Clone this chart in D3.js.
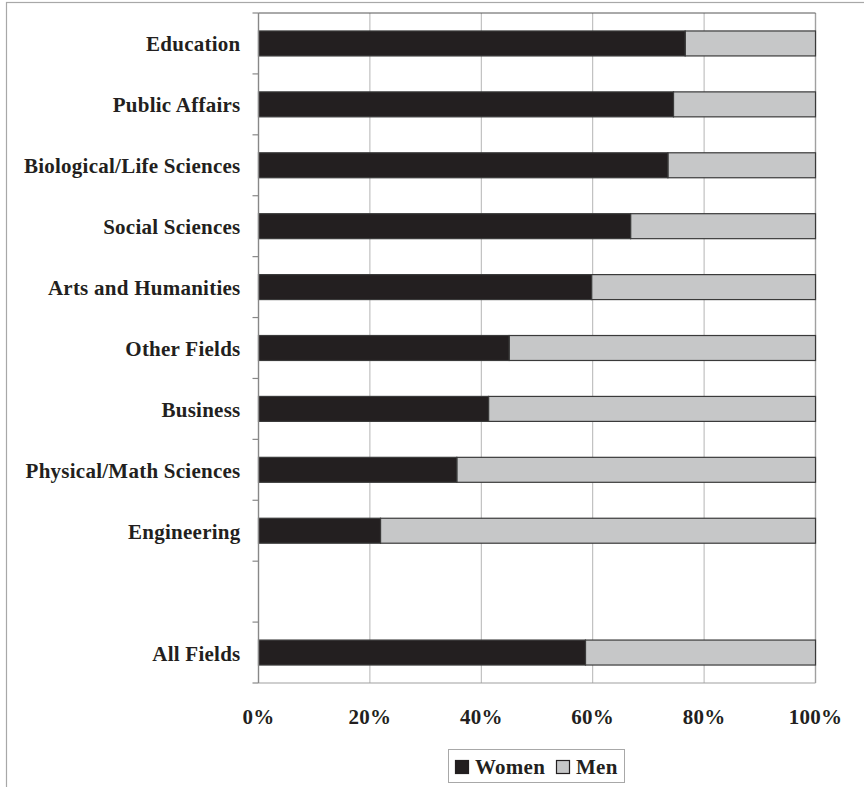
<!DOCTYPE html>
<html>
<head>
<meta charset="utf-8">
<script src="https://cdn.jsdelivr.net/npm/d3@7"></script>
<style>
  html, body { margin: 0; padding: 0; background: #fff; }
  svg { display: block; }
  text { font-family: "Liberation Serif", "Times New Roman", serif; font-weight: bold; fill: #231f20; letter-spacing: 0.25px; }
</style>
</head>
<body>
<svg id="chart" width="864" height="787"></svg>
<script>
// Fields of study, top to bottom; "" is the empty row before the total.
const categories = [
  "Education", "Public Affairs", "Biological/Life Sciences", "Social Sciences",
  "Arts and Humanities", "Other Fields", "Business", "Physical/Math Sciences",
  "Engineering", "", "All Fields"
];
// Share of degrees earned by women (percent); null for the empty row.
const womenShare = [76.6, 74.5, 73.5, 66.8, 59.8, 45.0, 41.3, 35.6, 21.9, null, 58.7];
// Share earned by men (percent).
const menShare = [23.4, 25.5, 26.5, 33.2, 40.2, 55.0, 58.7, 64.4, 78.1, null, 41.3];
const xTicks = [0, 20, 40, 60, 80, 100];
const seriesNames = ["Women", "Men"];
const seriesColors = ["#231f20", "#c6c7c8"];

const svg = d3.select("#chart");
const plot = { left: 258.5, right: 815.5, top: 13, bottom: 683 };

// outer frame
svg.append("rect")
  .attr("x", 6.5).attr("y", 2.5).attr("width", 1000).attr("height", 1000)
  .attr("fill", "none").attr("stroke", "#a8a8a8").attr("stroke-width", 1.2);

const x = d3.scaleLinear().domain([0, 100]).range([plot.left, plot.right]);
const y = d3.scaleBand().domain(categories).range([plot.top, plot.bottom]).padding(0);
const barFrac = 0.41;
const barH = y.step() * barFrac;
const barOff = y.step() * (1 - barFrac) / 2;

// vertical gridlines
svg.append("g").selectAll("line")
  .data(xTicks.filter(t => t > 0 && t < 100))
  .join("line")
  .attr("x1", d => x(d)).attr("x2", d => x(d))
  .attr("y1", plot.top).attr("y2", plot.bottom)
  .attr("stroke", "#b4b4b4").attr("stroke-width", 1);

// plot area border
svg.append("line")
  .attr("x1", x(100)).attr("x2", x(100)).attr("y1", plot.top).attr("y2", plot.bottom)
  .attr("stroke", "#a0a0a0").attr("stroke-width", 1.4);
svg.append("line")
  .attr("x1", plot.left).attr("x2", x(100)).attr("y1", plot.bottom).attr("y2", plot.bottom)
  .attr("stroke", "#a0a0a0").attr("stroke-width", 1.2);
svg.append("line")
  .attr("x1", plot.left).attr("x2", x(100)).attr("y1", plot.top).attr("y2", plot.top)
  .attr("stroke", "#555").attr("stroke-width", 1);

// stacked bars
const rows = categories.map((c, i) => ({ cat: c, women: womenShare[i], men: menShare[i] }))
  .filter(d => d.women != null);

const bars = svg.append("g");
bars.selectAll("rect.men")
  .data(rows).join("rect").attr("class", "men")
  .attr("x", d => x(d.women)).attr("width", d => x(d.women + d.men) - x(d.women))
  .attr("y", d => y(d.cat) + barOff).attr("height", barH)
  .attr("fill", seriesColors[1]).attr("stroke", "#3a3a3a").attr("stroke-width", 1.2);
bars.selectAll("rect.women")
  .data(rows).join("rect").attr("class", "women")
  .attr("x", x(0)).attr("width", d => x(d.women) - x(0))
  .attr("y", d => y(d.cat) + barOff).attr("height", barH)
  .attr("fill", seriesColors[0]).attr("stroke", "#3a3a3a").attr("stroke-width", 1.2);

// category axis with ticks at band boundaries
const yAxis = svg.append("g");
yAxis.append("line")
  .attr("x1", plot.left).attr("x2", plot.left).attr("y1", plot.top).attr("y2", plot.bottom)
  .attr("stroke", "#888").attr("stroke-width", 1.4);
const bounds = categories.map(c => y(c)).concat([plot.bottom]);
yAxis.selectAll("line.tick")
  .data(bounds).join("line").attr("class", "tick")
  .attr("x1", plot.left - 6).attr("x2", plot.left)
  .attr("y1", d => d).attr("y2", d => d)
  .attr("stroke", "#888").attr("stroke-width", 1.2);
yAxis.selectAll("text")
  .data(categories.filter(c => c !== ""))
  .join("text")
  .attr("x", plot.left - 18)
  .attr("y", d => y(d) + y.bandwidth() / 2)
  .attr("dy", "0.38em")
  .attr("text-anchor", "end")
  .attr("font-size", 21)
  .text(d => d);

// percentage labels under the plot
svg.append("g").selectAll("text")
  .data(xTicks).join("text")
  .attr("x", d => x(d)).attr("y", 724)
  .attr("text-anchor", "middle")
  .attr("font-size", 21)
  .text(d => d3.format(".0%")(d / 100));

// legend
const legend = svg.append("g");
legend.append("rect")
  .attr("x", 448.5).attr("y", 749.5).attr("width", 176).attr("height", 33)
  .attr("fill", "#fff").attr("stroke", "#a8a8a8").attr("stroke-width", 1);
const legendItems = [
  { name: seriesNames[0], color: seriesColors[0], sx: 455.5, tx: 475 },
  { name: seriesNames[1], color: seriesColors[1], sx: 556.5, tx: 576 }
];
legend.selectAll("rect.sw").data(legendItems).join("rect").attr("class", "sw")
  .attr("x", d => d.sx).attr("y", 760.5).attr("width", 13).attr("height", 13)
  .attr("fill", d => d.color).attr("stroke", "#231f20").attr("stroke-width", 1.2);
legend.selectAll("text").data(legendItems).join("text")
  .attr("x", d => d.tx).attr("y", 773.5)
  .attr("font-size", 21)
  .text(d => d.name);
</script>
</body>
</html>
